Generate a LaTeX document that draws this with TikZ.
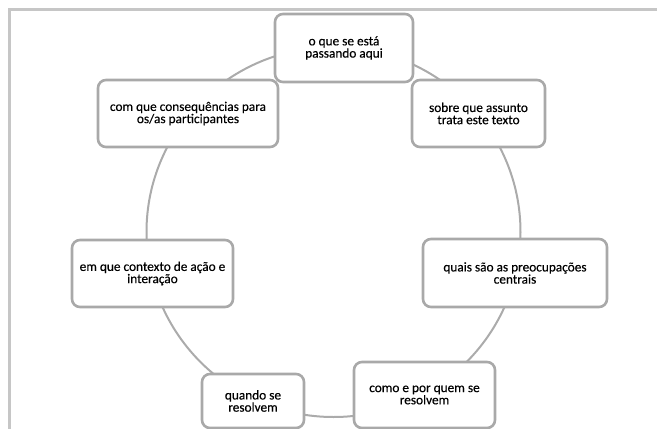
\documentclass[tikz,border=0pt]{standalone}
\usepackage{fontspec}
\setmainfont{Carlito}[FakeBold=0.35]
\definecolor{frameg}{HTML}{C6C6C6}
\definecolor{boxg}{HTML}{A9A9A9}
\definecolor{ringg}{HTML}{ABABAB}
\begin{document}
\begin{tikzpicture}[x=1pt,y=-1pt,
  qbox/.style={draw=boxg, line width=2.6pt, fill=white, rounded corners=8pt,
    align=center, inner sep=0pt, text=black,
    font=\fontsize{13.3}{12.2}\selectfont},
  ring/.style={draw=ringg, line width=2pt},
  framel/.style={draw=frameg, line width=2.5pt}]
\useasboundingbox (0,0) rectangle (657,429);
\draw[framel] (9.5,429) -- (9.5,9.5) -- (657,9.5);
\draw[ring] (333.5,232) ellipse [x radius=187, y radius=185];
\node[qbox, minimum width=138, minimum height=68] (a) at (344,48) {o que se está\\passando aqui};
\node[qbox, minimum width=133, minimum height=67] (b) at (478.5,113.5) {sobre que assunto\\trata este texto};
\node[qbox, minimum width=180, minimum height=67] (g) at (188,113.5) {com que consequências para\\os/as participantes};
\node[qbox, minimum width=161, minimum height=67] (f) at (152.5,273.5) {em que contexto de ação e\\interação};
\node[qbox, minimum width=184, minimum height=68] (c) at (515,273) {quais são as preocupações\\centrais};
\node[qbox, minimum width=141, minimum height=66] (d) at (424.5,395) {como e por quem se\\resolvem};
\node[qbox, minimum width=102, minimum height=54] (e) at (253,401) {quando se\\resolvem};
\end{tikzpicture}
\end{document}
